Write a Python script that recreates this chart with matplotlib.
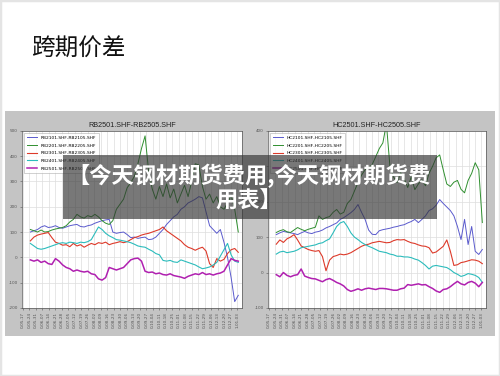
import numpy as np
import matplotlib
matplotlib.use("Agg")
import matplotlib.pyplot as plt
from matplotlib.patches import Rectangle

# -------------------------
# data
# -------------------------
date_labels = ["0-05-17", "0-05-24", "0-05-31", "0-06-07", "0-06-14", "0-06-21", "0-06-28",
               "0-07-05", "0-07-12", "0-07-19", "0-07-26", "0-08-02", "0-08-09", "0-08-16",
               "0-08-23", "0-08-30", "0-09-06", "0-09-13", "0-09-20", "0-09-27", "0-10-04",
               "0-10-11", "0-10-18", "0-10-25", "0-11-01", "0-11-08", "0-11-15", "0-11-22",
               "0-11-29", "0-12-06", "0-12-13", "0-12-20", "0-12-27", "1-01-03"]
label_days = np.arange(0, 7 * len(date_labels), 7)

rb_names = ["RB2101.SHF-RB2105.SHF", "RB2201.SHF-RB2205.SHF", "RB2301.SHF-RB2305.SHF",
            "RB2401.SHF-RB2405.SHF", "RB2501.SHF-RB2505.SHF"]
hc_names = ["HC2101.SHF-HC2105.SHF", "HC2201.SHF-HC2205.SHF", "HC2301.SHF-HC2305.SHF",
            "HC2401.SHF-HC2405.SHF", "HC2501.SHF-HC2505.SHF"]

rb2101 = [100, 105, 110, 120, 125, 118, 120, 125, 118, 115, 120, 125, 128, 130, 122, 120, 125, 128,
          135, 140, 145, 148, 150, 100, 95, 98, 100, 90, 78, 80, 75, 78, 80, 70, 72, 80, 95, 110,
          130, 145, 160, 170, 190, 200, 215, 222, 230, 240, 235, 180, 125, 110, 95, 110, 60, 0,
          -80, -175, -150]
rb2201 = [110, 105, 100, 108, 100, 102, 108, 112, 115, 118, 125, 140, 150, 170, 160, 155, 165, 160,
          170, 160, 145, 135, 130, 145, 190, 210, 230, 275, 295, 320, 370, 430, 480, 340, 270, 230,
          280, 240, 290, 235, 270, 215, 250, 285, 240, 300, 370, 365, 280, 230, 250, 215, 240, 200,
          190, 215, 245, 190, 100]
rb2301 = [65, 80, 88, 92, 95, 98, 78, 60, 55, 48, 50, 42, 55, 45, 50, 40, 48, 55, 50, 58, 55, 60,
          50, 55, 58, 62, 58, 62, 70, 78, 82, 88, 92, 95, 100, 105, 110, 120, 105, 95, 85, 75, 65,
          50, 40, 35, 28, 35, 40, 25, -25, -40, -5, -15, -8, 15, 30, 35, 20]
rb2401 = [55, 45, 35, 32, 35, 40, 45, 50, 55, 58, 55, 60, 58, 55, 60, 58, 62, 70, 95, 120, 110, 95,
          85, 78, 70, 68, 65, 62, 58, 52, 45, 42, 40, 32, 25, 15, 10, -12, -15, -12, -18, -20, -10,
          -15, -20, -25, -30, -38, -45, -42, -38, -30, -20, 5, 30, 55, 10, -15, -20]
rb2501 = [-10, -15, -10, -20, -15, -25, -28, -5, -15, -30, -40, -45, -55, -50, -55, -58, -55, -65,
          -68, -85, -90, -80, -40, -45, -50, -45, -40, -25, -10, -5, -3, -15, -55, -60, -58, -65,
          -62, -68, -70, -65, -72, -75, -78, -83, -75, -70, -65, -68, -60, -68, -65, -70, -65, -62,
          -55, -30, -5, -12, -15]

hc2101 = [107, 112, 116, 114, 112, 110, 107, 112, 116, 112, 110, 114, 116, 120, 126, 130, 135, 140,
          150, 155, 162, 169, 178, 192, 170, 150, 120, 108, 107, 118, 121, 123, 125, 128, 130, 133,
          135, 140, 144, 150, 141, 150, 160, 175, 180, 190, 206, 195, 185, 175, 160, 130, 93, 150,
          79, 130, 60, 51, 65]
hc2201 = [113, 118, 121, 115, 113, 120, 127, 122, 118, 122, 125, 128, 160, 150, 155, 158, 170, 178,
          165, 170, 195, 206, 230, 254, 275, 290, 295, 305, 327, 350, 366, 420, 299, 270, 254, 282,
          265, 240, 270, 234, 250, 262, 245, 280, 300, 324, 332, 290, 250, 243, 255, 260, 235, 225,
          260, 280, 310, 290, 141]
hc2301 = [80, 92, 85, 95, 100, 107, 92, 75, 70, 65, 62, 60, 62, 45, 5, 35, 45, 48, 52, 50, 52, 56,
          62, 68, 74, 78, 80, 84, 86, 88, 86, 84, 85, 90, 93, 92, 93, 88, 84, 82, 78, 75, 74, 70,
          55, 58, 66, 74, 92, 60, 20, 22, 28, 30, 33, 36, 35, 32, 25]
hc2401 = [52, 58, 60, 56, 58, 60, 64, 70, 72, 74, 76, 78, 82, 84, 90, 95, 112, 130, 140, 144, 130,
          112, 100, 93, 85, 79, 74, 70, 65, 60, 58, 56, 52, 50, 46, 46, 44, 44, 42, 38, 35, 28, 20,
          10, 18, 20, 18, 16, 14, 8, 0, -5, -11, -8, -3, -5, -8, -14, -28]
hc2501 = [-6, -12, 0, -8, -12, -8, -6, 10, -10, -14, -17, -18, -22, -26, -20, -17, -22, -28, -32,
          -38, -48, -53, -50, -46, -50, -46, -44, -46, -48, -45, -45, -46, -48, -50, -50, -46, -44,
          -34, -36, -34, -32, -35, -34, -40, -45, -52, -56, -48, -46, -40, -32, -25, -32, -35, -28,
          -25, -30, -40, -28]

rb_series = [rb2101, rb2201, rb2301, rb2401, rb2501]
hc_series = [hc2101, hc2201, hc2301, hc2401, hc2501]
line_colors = ["#5a5acd", "#2f8f2f", "#dd3a2a", "#2cbcbc", "#b020b0"]
line_widths = [0.7, 0.7, 0.8, 0.8, 1.1]


def draw_panel(ax, title, names, series, yticks):
    for name, vals, col, lw in zip(names, series, line_colors, line_widths):
        days = np.linspace(8, 232, len(vals))
        ax.plot(days, vals, color=col, lw=lw, label=name)
    ax.set_xlim(-1, 236)
    ax.set_ylim(yticks[0], yticks[-1])
    ax.set_yticks(yticks)
    ax.set_yticklabels([str(v) for v in yticks], fontsize=3, color="#333333")
    ax.set_xticks(label_days)
    ax.set_xticklabels(date_labels, rotation=90, fontsize=3, color="#333333")
    ax.tick_params(length=1.5, width=0.4, pad=1.5, colors="#555555")
    ax.grid(True, color="#dddddd", lw=0.5)
    ax.set_axisbelow(True)
    for sp in ax.spines.values():
        sp.set_linewidth(0.5)
        sp.set_color("#555555")
    ax.set_title(title, fontsize=5.2, family="Liberation Sans", color="#222222", pad=2.5)
    leg = ax.legend(loc="upper left", fontsize=3.2, handlelength=2.2, borderpad=0.6,
                    labelspacing=0.8, frameon=True, fancybox=False)
    leg.get_frame().set_linewidth(0.4)
    leg.get_frame().set_edgecolor("#999999")


def main():
    fig = plt.figure(figsize=(5.0, 3.76), dpi=100)
    fig.patch.set_facecolor("white")

    # screenshot edge + grey slide panel behind the two charts
    fig.patches.append(Rectangle((0, 0), 1, 1, transform=fig.transFigure, fill=False,
                                 edgecolor="#e4e4e4", lw=2.5, zorder=-5))
    fig.patches.append(Rectangle((0.010, 0.106), 0.980, 0.598, transform=fig.transFigure,
                                 facecolor="#c4c4c4", edgecolor="none", zorder=-5))

    fig.text(0.062, 0.870, "跨期价差", fontsize=17, va="center", ha="left", color="#111111",
             family=["Noto Sans CJK SC", "DejaVu Sans"])

    ax1 = fig.add_axes([0.044, 0.181, 0.440, 0.471])
    ax2 = fig.add_axes([0.536, 0.181, 0.436, 0.471])
    draw_panel(ax1, "RB2501.SHF-RB2505.SHF", rb_names, rb_series, list(range(-200, 501, 100)))
    draw_panel(ax2, "HC2501.SHF-HC2505.SHF", hc_names, hc_series, list(range(-100, 401, 100)))

    # semi-transparent caption box over the charts
    fig.patches.append(Rectangle((0.126, 0.418), 0.748, 0.170, transform=fig.transFigure,
                                 facecolor="#333333", alpha=0.66, edgecolor="none", zorder=10))
    fig.text(0.497, 0.500, "【今天钢材期货费用,今天钢材期货费\n用表】", fontsize=16,
             fontweight="bold", color="white", ha="center", va="center", linespacing=1.05,
             family=["Noto Sans CJK SC", "DejaVu Sans"], zorder=11)

    fig.savefig("out.png", dpi=100)
    plt.close(fig)


if __name__ == "__main__":
    main()
